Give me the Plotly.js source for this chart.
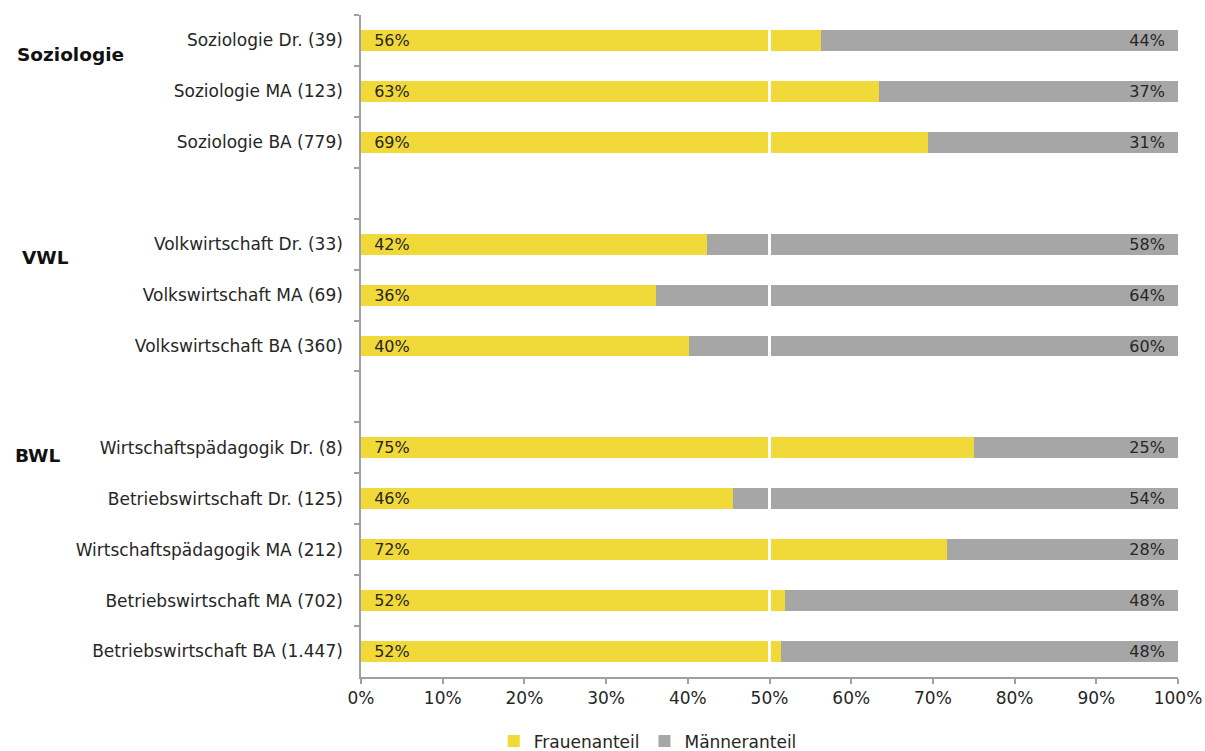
<!DOCTYPE html>
<html>
<head>
<meta charset="utf-8">
<script src="https://cdn.plot.ly/plotly-3.0.1.min.js"></script>
<style>
html,body{margin:0;padding:0;background:#fff;}
#chart{width:1205px;height:751px;}
</style>
</head>
<body>
<div id="chart"></div>
<script>
// Categories from top to bottom (blank entries are group gaps)
var categories = [
  "Soziologie Dr. (39)",
  "Soziologie MA (123)",
  "Soziologie BA (779)",
  " ",
  "Volkwirtschaft Dr. (33)",
  "Volkswirtschaft MA (69)",
  "Volkswirtschaft BA (360)",
  "  ",
  "Wirtschaftspädagogik Dr. (8)",
  "Betriebswirtschaft Dr. (125)",
  "Wirtschaftspädagogik MA (212)",
  "Betriebswirtschaft MA (702)",
  "Betriebswirtschaft BA (1.447)"
];
var barCategories = [
  "Soziologie Dr. (39)",
  "Soziologie MA (123)",
  "Soziologie BA (779)",
  "Volkwirtschaft Dr. (33)",
  "Volkswirtschaft MA (69)",
  "Volkswirtschaft BA (360)",
  "Wirtschaftspädagogik Dr. (8)",
  "Betriebswirtschaft Dr. (125)",
  "Wirtschaftspädagogik MA (212)",
  "Betriebswirtschaft MA (702)",
  "Betriebswirtschaft BA (1.447)"
];
var frauenanteil = [56.3, 63.4, 69.4, 42.4, 36.1, 40.1, 75.0, 45.5, 71.7, 51.9, 51.4];
var maenneranteil = [43.7, 36.6, 30.6, 57.6, 63.9, 59.9, 25.0, 54.5, 28.3, 48.1, 48.6];
var frauenLabels = ["56%", "63%", "69%", "42%", "36%", "40%", "75%", "46%", "72%", "52%", "52%"];
var maennerLabels = ["44%", "37%", "31%", "58%", "64%", "60%", "25%", "54%", "28%", "48%", "48%"];
var xTickVals = [0, 10, 20, 30, 40, 50, 60, 70, 80, 90, 100];
var xTickText = ["0%", "10%", "20%", "30%", "40%", "50%", "60%", "70%", "80%", "90%", "100%"];
var groupLabels = ["Soziologie", "VWL", "BWL"];

var NB = "\u00a0";
var FONT = "DejaVu Sans, Verdana, sans-serif";
var TEXTCOL = "#262626";

var traces = [
  {
    type: "bar", orientation: "h", name: "Frauenanteil",
    y: barCategories, x: frauenanteil,
    marker: {color: "#F2D93A"},
    text: frauenLabels.map(function(t){return NB+NB+t;}),
    textposition: "inside", insidetextanchor: "start", constraintext: "none",
    textfont: {family: FONT, size: 16, color: TEXTCOL},
    hoverinfo: "x+y"
  },
  {
    type: "bar", orientation: "h", name: "Männeranteil",
    y: barCategories, x: maenneranteil,
    marker: {color: "#A6A6A6"},
    text: maennerLabels.map(function(t){return t+NB+NB;}),
    textposition: "inside", insidetextanchor: "end", constraintext: "none",
    textfont: {family: FONT, size: 16, color: TEXTCOL},
    hoverinfo: "x+y"
  }
];

var layout = {
  width: 1205, height: 751,
  margin: {l: 361, r: 27, t: 15, b: 74, autoexpand: false},
  paper_bgcolor: "#fff", plot_bgcolor: "#fff",
  barmode: "stack", bargap: 0.59,
  font: {family: FONT, size: 16, color: TEXTCOL},
  showlegend: true,
  legend: {
    orientation: "h", x: 0.351, xanchor: "center", y: -0.07, yanchor: "top",
    font: {family: FONT, size: 17, color: TEXTCOL},
    traceorder: "normal", itemwidth: 30
  },
  xaxis: {
    range: [0, 100], tickvals: xTickVals, ticktext: xTickText,
    showgrid: false, zeroline: false,
    showline: true, linecolor: "#A0A0A0", linewidth: 1.5,
    ticks: "outside", ticklen: 5, tickcolor: "#A0A0A0", tickwidth: 1.5,
    tickfont: {family: FONT, size: 17, color: TEXTCOL}
  },
  yaxis: {
    type: "category", categoryorder: "array", categoryarray: categories,
    autorange: "reversed",
    showgrid: false, zeroline: false,
    showline: true, linecolor: "#A0A0A0", linewidth: 1.5,
    ticks: "outside", ticklen: 5, tickcolor: "#A0A0A0", tickwidth: 1.5,
    tickson: "boundaries", ticklabelstandoff: 13,
    tickfont: {family: FONT, size: 17, color: TEXTCOL}
  },
  shapes: [{
    type: "line", xref: "x", yref: "paper", x0: 50, x1: 50, y0: 0, y1: 1,
    line: {color: "#ffffff", width: 3}, layer: "above"
  }],
  annotations: [
    {text: "<b>" + groupLabels[0] + "</b>", xref: "paper", yref: "paper", x: -0.4235, y: 0.941, xanchor: "left", yanchor: "middle", showarrow: false, font: {family: FONT, size: 18.5, color: "#111"}},
    {text: "<b>" + groupLabels[1] + "</b>", xref: "paper", yref: "paper", x: -0.417, y: 0.633, xanchor: "left", yanchor: "middle", showarrow: false, font: {family: FONT, size: 18.5, color: "#111"}},
    {text: "<b>" + groupLabels[2] + "</b>", xref: "paper", yref: "paper", x: -0.426, y: 0.335, xanchor: "left", yanchor: "middle", showarrow: false, font: {family: FONT, size: 18.5, color: "#111"}}
  ]
};

Plotly.newPlot("chart", traces, layout, {displayModeBar: false, responsive: false});
</script>
</body>
</html>
